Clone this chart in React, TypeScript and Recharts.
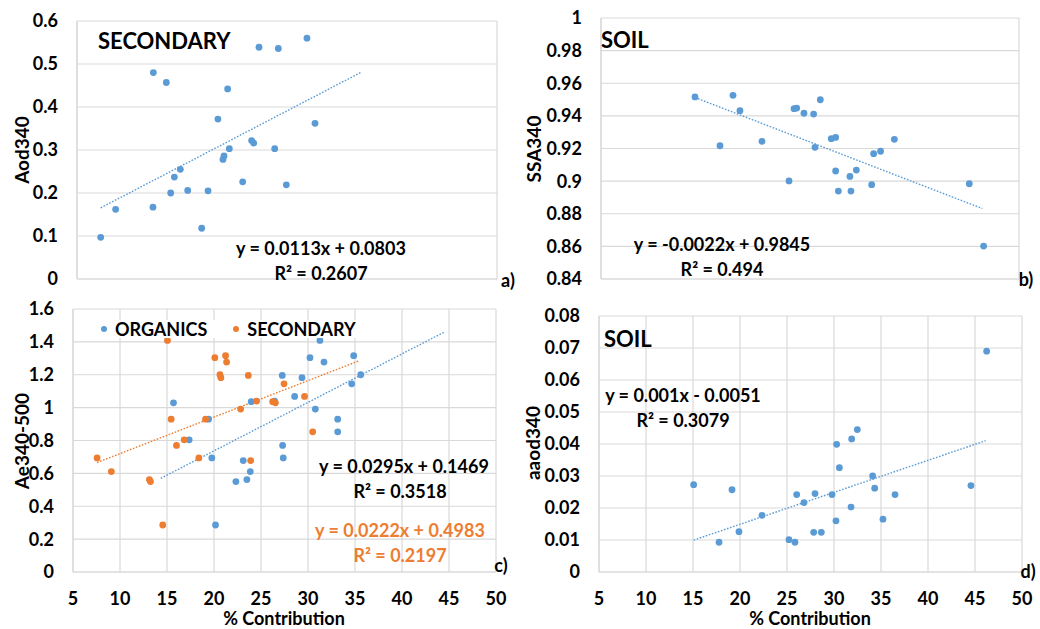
import React from "react";
import { CartesianGrid, ReferenceLine, Scatter, ScatterChart, XAxis, YAxis } from "recharts";

const BLUE = "#5b9bd5";
const ORANGE = "#ed7d31";
const GRID = "#d9d9d9";
const FONT = "Lato, 'Open Sans', sans-serif";

const X_TICKS = [5, 10, 15, 20, 25, 30, 35, 40, 45, 50];

// a) secondary vs Aod340
const A_SEC_PCT = [7.54, 9.14, 13.18, 14.57, 13.14, 15.04, 15.43, 16.07, 16.86, 18.36, 19.04, 20.1, 21.14, 21.32, 20.75, 20.64, 22.75, 23.71, 23.93, 24.5, 26.57, 26.18, 27.43, 29.64, 30.5];
const A_AOD340 = [0.097, 0.162, 0.48, 0.457, 0.167, 0.2, 0.237, 0.255, 0.206, 0.118, 0.205, 0.372, 0.442, 0.303, 0.286, 0.278, 0.226, 0.322, 0.316, 0.539, 0.536, 0.303, 0.219, 0.56, 0.362];
const A_TICKS = [0, 0.1, 0.2, 0.3, 0.4, 0.5, 0.6];
const A_TREND = { slope: 0.0113, intercept: 0.0803, from: 7.54, to: 35.5 };

// b) soil vs SSA340
const B_SOIL_PCT = [15.12, 19.21, 19.96, 17.81, 22.33, 25.24, 25.78, 26.07, 26.85, 27.89, 28.61, 28.04, 29.79, 30.26, 30.26, 30.55, 31.8, 31.91, 32.49, 34.14, 34.35, 35.1, 36.58, 44.65, 46.19];
const B_SSA340 = [0.9516, 0.9526, 0.9432, 0.9217, 0.9244, 0.9001, 0.9444, 0.9448, 0.9416, 0.9411, 0.9499, 0.9207, 0.926, 0.9268, 0.9062, 0.8939, 0.9029, 0.8939, 0.9068, 0.8978, 0.9168, 0.9183, 0.9256, 0.8984, 0.8602];
const B_TICKS = [0.84, 0.86, 0.88, 0.9, 0.92, 0.94, 0.96, 0.98, 1];
const B_TREND = { slope: -0.0022, intercept: 0.9845, from: 15.12, to: 46.05 };

// c) organics / secondary vs Ae340-500
const C_ORG_PCT = [15.69, 17.36, 19.42, 19.77, 20.16, 22.33, 23.11, 23.5, 23.86, 23.96, 26.45, 27.26, 27.3, 27.37, 28.58, 29.36, 30.21, 30.78, 31.27, 31.7, 33.16, 33.16, 34.65, 34.86, 35.61];
const C_ORG_AE = [1.029, 0.804, 0.93, 0.694, 0.286, 0.55, 0.678, 0.562, 0.611, 1.036, 1.04, 1.196, 0.77, 0.694, 1.068, 1.182, 1.304, 0.991, 1.409, 1.277, 0.93, 0.853, 1.145, 1.316, 1.2];
const C_SEC_PCT = [7.56, 9.08, 13.13, 13.24, 14.55, 15.05, 15.44, 16.01, 16.83, 18.39, 19.1, 20.09, 20.63, 20.73, 21.23, 21.34, 22.83, 23.65, 23.9, 24.53, 26.24, 26.53, 27.45, 29.63, 30.5];
const C_SEC_AE = [0.694, 0.611, 0.562, 0.55, 0.286, 1.409, 0.93, 0.77, 0.804, 0.694, 0.93, 1.304, 1.2, 1.182, 1.316, 1.277, 0.991, 1.196, 0.678, 1.04, 1.036, 1.029, 1.145, 1.068, 0.853];
const C_TICKS = [0, 0.2, 0.4, 0.6, 0.8, 1, 1.2, 1.4, 1.6];
const C_ORG_TREND = { slope: 0.0295, intercept: 0.1469, from: 14.34, to: 44.6 };
const C_SEC_TREND = { slope: 0.0222, intercept: 0.4983, from: 7.56, to: 35.36 };

// d) soil vs aaod340
const D_SOIL_PCT = [15.07, 17.77, 19.15, 19.89, 22.34, 25.21, 25.85, 26.03, 26.81, 27.84, 27.98, 28.65, 29.79, 30.21, 30.28, 30.57, 31.81, 31.88, 32.48, 34.11, 34.33, 35.21, 36.49, 44.57, 46.24];
const D_AAOD340 = [0.0273, 0.0093, 0.0257, 0.0126, 0.0177, 0.0101, 0.0093, 0.0242, 0.0217, 0.0124, 0.0245, 0.0124, 0.0242, 0.016, 0.0399, 0.0326, 0.0203, 0.0416, 0.0445, 0.03, 0.0262, 0.0165, 0.0242, 0.027, 0.069];
const D_TICKS = [0, 0.01, 0.02, 0.03, 0.04, 0.05, 0.06, 0.07, 0.08];
const D_TREND = { slope: 0.001, intercept: -0.0051, from: 15.07, to: 46.13 };

type Trend = { slope: number; intercept: number; from: number; to: number };
type Series = { xs: number[]; ys: number[]; color: string; trend: Trend };

const fmt = (v: number) => String(+Number(v).toFixed(3));

function Dot(color: string) {
  return (props: any) => <circle cx={props.cx} cy={props.cy} r={3.4} fill={color} />;
}

interface PanelProps {
  left: number;
  top: number;
  width: number;
  height: number;
  margin: { top: number; right: number; bottom: number; left: number };
  yWidth: number;
  yTicks: number[];
  showX: boolean;
  series: Series[];
}

function Panel({ left, top, width, height, margin, yWidth, yTicks, showX, series }: PanelProps) {
  const tickStyle = { fill: "#000", fontSize: 18, fontWeight: 700, fontFamily: FONT };
  return (
    <div style={{ position: "absolute", left, top }}>
      <ScatterChart width={width} height={height} margin={margin}>
        <CartesianGrid stroke={GRID} strokeWidth={1.2} />
        <XAxis
          type="number"
          dataKey="x"
          domain={[5, 50]}
          ticks={X_TICKS}
          height={showX ? 57 : 1}
          tick={showX ? tickStyle : false}
          tickLine={false}
          tickSize={0}
          tickMargin={20}
          axisLine={{ stroke: GRID, strokeWidth: 1.2 }}
        />
        <YAxis
          type="number"
          dataKey="y"
          domain={[yTicks[0], yTicks[yTicks.length - 1]]}
          ticks={yTicks}
          width={yWidth}
          tick={tickStyle}
          tickFormatter={fmt}
          tickLine={false}
          tickSize={0}
          tickMargin={19}
          axisLine={{ stroke: GRID, strokeWidth: 1.2 }}
        />
        {series.map((s, i) => (
          <Scatter
            key={i}
            data={s.xs.map((x, j) => ({ x, y: s.ys[j] }))}
            fill={s.color}
            shape={Dot(s.color)}
            isAnimationActive={false}
          />
        ))}
        {series.map((s, i) => (
          <ReferenceLine
            key={"t" + i}
            segment={[
              { x: s.trend.from, y: s.trend.slope * s.trend.from + s.trend.intercept },
              { x: s.trend.to, y: s.trend.slope * s.trend.to + s.trend.intercept },
            ]}
            stroke={s.color}
            strokeWidth={1.4}
            strokeDasharray="1.6 1.6"
            ifOverflow="visible"
          />
        ))}
      </ScatterChart>
    </div>
  );
}

function Txt({
  x,
  y,
  size = 18,
  color = "#000",
  start = false,
  rotate = false,
  bg,
  children,
}: {
  x: number;
  y: number;
  size?: number;
  color?: string;
  start?: boolean;
  rotate?: boolean;
  bg?: string;
  children: React.ReactNode;
}) {
  return (
    <div
      style={{
        position: "absolute",
        left: x,
        top: y,
        transform: `translate(${start ? "0" : "-50%"}, -50%)${rotate ? " rotate(-90deg)" : ""}`,
        fontFamily: FONT,
        fontWeight: 700,
        fontSize: size,
        lineHeight: 1,
        color,
        whiteSpace: "nowrap",
        background: bg,
      }}
    >
      {children}
    </div>
  );
}

function LegendDot({ color }: { color: string }) {
  return (
    <span
      style={{
        display: "inline-block",
        width: 6,
        height: 6,
        borderRadius: 3,
        background: color,
        marginRight: 8,
        verticalAlign: "middle",
        position: "relative",
        top: -2,
      }}
    />
  );
}

export default function App() {
  return (
    <div style={{ position: "absolute", left: 0, top: 0, width: 1040, height: 629, background: "#fff", overflow: "hidden" }}>
      <Panel
        left={0}
        top={0}
        width={520}
        height={290}
        margin={{ top: 21, right: 23, bottom: 10, left: 0 }}
        yWidth={77}
        yTicks={A_TICKS}
        showX={false}
        series={[{ xs: A_SEC_PCT, ys: A_AOD340, color: BLUE, trend: A_TREND }]}
      />
      <Panel
        left={520}
        top={0}
        width={520}
        height={290}
        margin={{ top: 18, right: 21, bottom: 10, left: 0 }}
        yWidth={81}
        yTicks={B_TICKS}
        showX={false}
        series={[{ xs: B_SOIL_PCT, ys: B_SSA340, color: BLUE, trend: B_TREND }]}
      />
      <Panel
        left={0}
        top={290}
        width={520}
        height={339}
        margin={{ top: 19, right: 24, bottom: 0, left: 0 }}
        yWidth={73}
        yTicks={C_TICKS}
        showX={true}
        series={[
          { xs: C_ORG_PCT, ys: C_ORG_AE, color: BLUE, trend: C_ORG_TREND },
          { xs: C_SEC_PCT, ys: C_SEC_AE, color: ORANGE, trend: C_SEC_TREND },
        ]}
      />
      <Panel
        left={520}
        top={290}
        width={520}
        height={339}
        margin={{ top: 26, right: 18, bottom: 0, left: 0 }}
        yWidth={79}
        yTicks={D_TICKS}
        showX={true}
        series={[{ xs: D_SOIL_PCT, ys: D_AAOD340, color: BLUE, trend: D_TREND }]}
      />

      {/* a) */}
      <Txt x={21} y={150} size={19} rotate>Aod340</Txt>
      <Txt x={98} y={41} size={22} start>SECONDARY</Txt>
      <Txt x={321} y={248}>y = 0.0113x + 0.0803</Txt>
      <Txt x={321} y={273}>R² = 0.2607</Txt>
      <Txt x={508} y={280}>a)</Txt>

      {/* b) */}
      <Txt x={533} y={149} size={19} rotate>SSA340</Txt>
      <Txt x={601} y={40} size={22} start>SOIL</Txt>
      <Txt x={722} y={244}>y = -0.0022x + 0.9845</Txt>
      <Txt x={722} y={269}>R² = 0.494</Txt>
      <Txt x={1026} y={279}>b)</Txt>

      {/* c) */}
      <Txt x={21} y={441} size={19} rotate>Ae340-500</Txt>
      <Txt x={97} y={329} start bg="#fff">
        <span style={{ padding: "4px 4px" }}>
          <LegendDot color={BLUE} />
          ORGANICS
          <span style={{ display: "inline-block", width: 26 }} />
          <LegendDot color={ORANGE} />
          SECONDARY
        </span>
      </Txt>
      <Txt x={404} y={466}>y = 0.0295x + 0.1469</Txt>
      <Txt x={400} y={491}>R² = 0.3518</Txt>
      <Txt x={400} y={530} color={ORANGE}>y = 0.0222x + 0.4983</Txt>
      <Txt x={400} y={555} color={ORANGE}>R² = 0.2197</Txt>
      <Txt x={501} y={565}>c)</Txt>
      <Txt x={284} y={618}>% Contribution</Txt>

      {/* d) */}
      <Txt x={532} y={443} size={19} rotate>aaod340</Txt>
      <Txt x={604} y={339} size={22} start>SOIL</Txt>
      <Txt x={683} y={395}>y = 0.001x - 0.0051</Txt>
      <Txt x={683} y={420}>R² = 0.3079</Txt>
      <Txt x={1028} y={571}>d)</Txt>
      <Txt x={810} y={618}>% Contribution</Txt>
    </div>
  );
}
